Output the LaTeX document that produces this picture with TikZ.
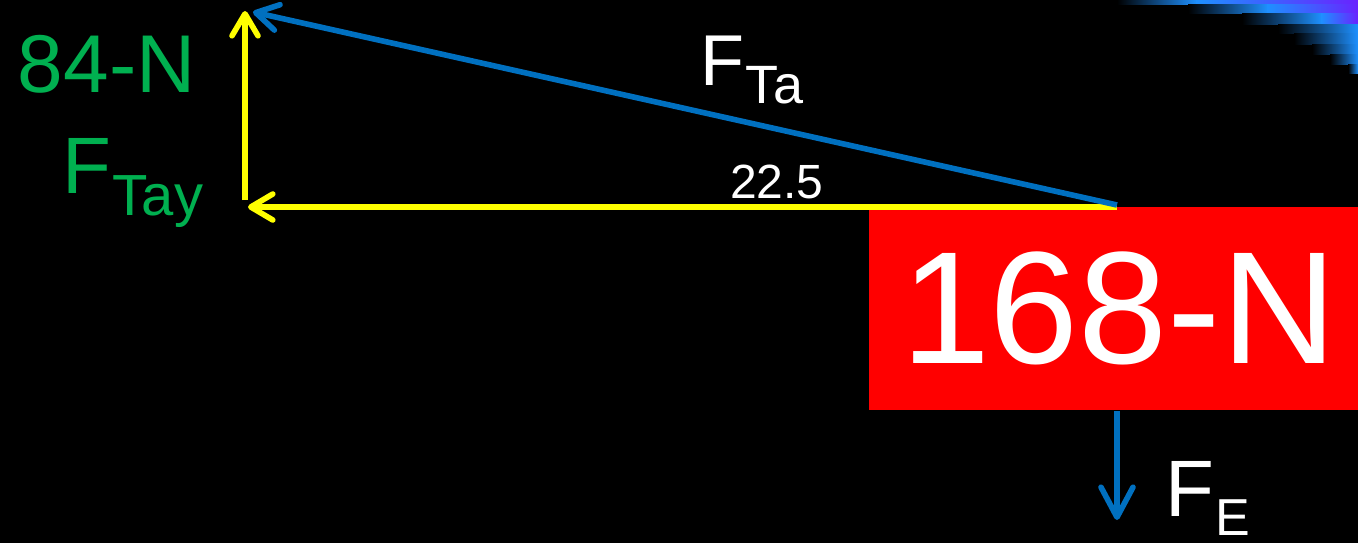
\documentclass[tikz,border=0pt]{standalone}
\usepackage{fontspec}
\setmainfont{Liberation Sans}
\usetikzlibrary{arrows.meta}
\definecolor{vecblue}{RGB}{0,112,192}
\definecolor{vecyellow}{RGB}{255,255,0}
\definecolor{lblgreen}{RGB}{0,176,80}
\definecolor{glowblue}{RGB}{30,144,255}
\definecolor{glowviolet}{RGB}{105,35,255}
\newcommand{\fsz}[1]{\fontsize{#1}{#1}\selectfont}
\newcommand{\vecname}[4]{\fsz{#1}F\kern1pt\raisebox{#3}{\fsz{#2}#4}}

\begin{document}
\begin{tikzpicture}[x=0.5pt, y=-0.5pt,
  vec/.style={line width=2.8pt, -{Straight Barb[length=11pt,width=13pt,round]}},
  lbl/.style={anchor=base west, inner sep=0pt, outer sep=0pt}]
  \fill[black] (0,0) rectangle (1358,543);
  \useasboundingbox (0,0) rectangle (1358,543);
  % glow in the corner
  \foreach \xs/\ya/\yb in {1117/0/4, 1188/4/13, 1242/13/24} {
    \shade[left color=black, right color=glowblue] (\xs,\ya) rectangle (\xs+80,\yb);
    \shade[left color=glowblue, right color=glowviolet] (\xs+79,\ya) rectangle (1358,\yb);
  }
  \foreach \xs/\ya/\yb in {1278/24/33, 1294/33/44, 1312/44/54, 1330/54/64, 1348/64/73}
    \shade[left color=black, right color=glowblue] (\xs,\ya) rectangle (1358,\yb);
  % box
  \node[fill=red, text=white, minimum width=244.5pt, minimum height=101.5pt, inner sep=0pt, anchor=north west]
    (box) at (869,207) {\kern5pt\raisebox{-7pt}{\fsz{80pt}168-N}};
  \coordinate (knot) at (1117,207);
  \coordinate (ytop) at (245,11);
  \coordinate (ycorner) at (245,200);
  \coordinate (xend) at (248,207);
  \coordinate (atip) at (253,12);
  \coordinate (ebot) at (1117,520);
  % vectors
  \draw[vec, vecyellow] (knot) -- (xend);
  \draw[vec, vecyellow] (ycorner) -- (ytop);
  \draw[vec, vecblue] ([yshift=1pt]knot) -- (atip);
  \draw[vec, vecblue, -{Straight Barb[length=15pt,width=16pt,round]}] (box.south -| knot) -- (ebot);
  % labels
  \node[lbl, text=lblgreen] (lbl84) at (18,92) {\fsz{41pt}84-N};
  \node[lbl, text=lblgreen] (lblTay) at (62,193) {\vecname{40pt}{29pt}{-11pt}{Tay}};
  \node[lbl, text=white] (lblTa) at (700,85) {\vecname{36pt}{27pt}{-9pt}{Ta}};
  \node[lbl, text=white] (lblAng) at (730,198) {\fsz{24pt}22.5};
  \node[lbl, text=white] (lblE) at (1165,516) {\vecname{40pt}{26pt}{-9.5pt}{E}};
\end{tikzpicture}
\end{document}
